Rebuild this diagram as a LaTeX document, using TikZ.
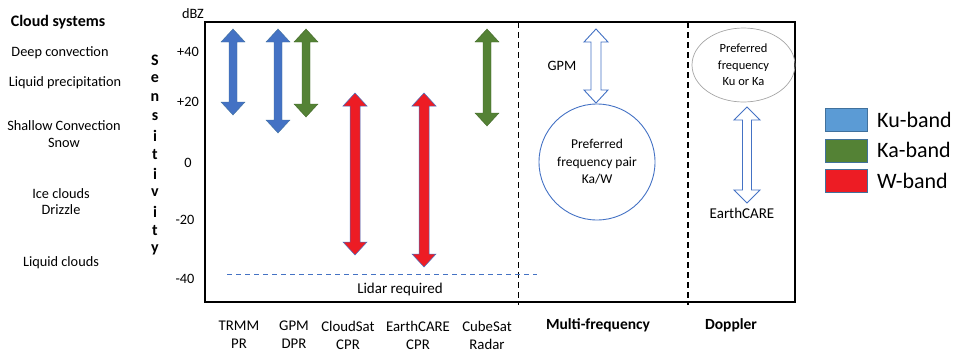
\documentclass[tikz,border=0pt]{standalone}
\usepackage{fontspec}
\setmainfont{Carlito}
\usetikzlibrary{shapes.geometric}
\definecolor{kublue}{HTML}{4472C4}
\definecolor{kuleg}{HTML}{5B9BD5}
\definecolor{kagreen}{HTML}{548235}
\definecolor{wred}{HTML}{ED1C24}
\definecolor{outl}{HTML}{41719C}
\newcommand{\dblarr}[6]{% x, ytop, ybot, W, w, style
  \draw[#6] (#1,#2) -- (#1+#4,#2+13) -- (#1+#5,#2+13) -- (#1+#5,#3-13) -- (#1+#4,#3-13)
   -- (#1,#3) -- (#1-#4,#3-13) -- (#1-#5,#3-13) -- (#1-#5,#2+13) -- (#1-#4,#2+13) -- cycle;}
\tikzset{
  txt/.style={inner sep=0pt, font=\fontsize{14.3}{16}\selectfont},
  bold/.style={inner sep=0pt, font=\fontsize{16}{18}\selectfont\bfseries},
  sens/.style={inner sep=0pt, font=\fontsize{16}{18}\selectfont\bfseries},
  inst/.style={inner sep=0pt, align=center, font=\fontsize{14.8}{18}\selectfont},
  kuarr/.style={fill=kublue, draw=outl, line width=0.4pt},
  kaarr/.style={fill=kagreen, draw=kagreen!80!black, line width=0.4pt},
  warr/.style={fill=wred, draw=kublue, line width=0.5pt},
  hollow/.style={fill=white, draw=kublue, line width=0.9pt},
  vdash/.style={line width=1.5pt, dash pattern=on 6pt off 4pt},
  legbox/.style={draw=outl, line width=0.8pt},
  legtxt/.style={inner sep=0pt, anchor=west, font=\fontsize{22}{24}\selectfont}
}
\begin{document}
\begin{tikzpicture}[x=1pt,y=-1pt]
\useasboundingbox (0,0) rectangle (957,351);
% left column
\node[bold] (cs) at (58,22) {Cloud systems};
\node[txt] (dc) at (60,53) {Deep convection};
\node[txt] (lp) at (65,83) {Liquid precipitation};
\node[txt] (sc) at (64,126) {Shallow Convection};
\node[txt] (sn) at (64,143) {Snow};
\node[txt] (ic) at (61,194) {Ice clouds};
\node[txt] (dr) at (61,210) {Drizzle};
\node[txt] (lc) at (61,263) {Liquid clouds};
% Sensitivity
\foreach \l [count=\i from 0] in {S,e,n,s,i,t,i,v,i,t,y}
  \node[sens] (sens\i) at (155,60+19*\i) {\l};
% axis labels
\node[txt] (dbz) at (193,14) {dBZ};
\node[txt] (p40) at (188,52) {+40};
\node[txt] (p20) at (188,102) {+20};
\node[txt] (z0) at (188,163) {0};
\node[txt] (m20) at (185,220) {-20};
\node[txt] (m40) at (185,279) {-40};
% main box
\draw[line width=2.2pt] (205,22) rectangle (795,302);
\draw[vdash] (518.5,22) -- (518.5,305);
\draw[vdash] (688,22) -- (688,305);
% lidar line
\draw[kublue, line width=0.8pt, dash pattern=on 5pt off 4pt] (227,274) -- (537,274);
\node[txt, font=\fontsize{15}{17}\selectfont] (lidar) at (400,289) {Lidar required};
% arrows
\dblarr{233}{29}{115}{12}{4}{kuarr}
\dblarr{278}{29}{133}{12}{4}{kuarr}
\dblarr{306}{29}{117}{12}{4}{kaarr}
\dblarr{355}{93}{255}{12}{5}{warr}
\dblarr{424}{93}{267}{12}{5}{warr}
\dblarr{487}{29}{126}{12}{4}{kaarr}
% bottom labels
\node[inst] (trmm) at (239,335) {TRMM\\PR};
\node[inst] (gpm) at (294,335) {GPM\\DPR};
\node[inst] (cloudsat) at (348,335) {CloudSat\\CPR};
\node[inst] (earthcare) at (418,335) {EarthCARE\\CPR};
\node[inst] (cubesat) at (487,335) {CubeSat\\Radar};
\node[bold, font=\fontsize{15.5}{18}\selectfont\bfseries] (multi) at (598,325) {Multi-frequency};
\node[bold, font=\fontsize{15.5}{18}\selectfont\bfseries] (doppler) at (731,325) {Doppler};
% multi-frequency
\dblarr{596}{29}{103}{12}{5}{hollow}
\node[txt] (gpmlab) at (562,66) {GPM};
\node[circle, draw=kublue, line width=0.9pt, minimum size=116pt, inner sep=0pt, align=center,
  font=\fontsize{13.5}{17.5}\selectfont] (pair) at (597,162) {Preferred\\frequency pair\\Ka/W};
% doppler
\node[ellipse, draw=gray!70, line width=0.7pt, minimum width=103pt, minimum height=74pt, inner sep=0pt,
  align=center, font=\fontsize{12.5}{16.5}\selectfont] (pref) at (743.5,65) {Preferred\\frequency\\Ku or Ka};
\dblarr{747}{107}{203}{13}{4.5}{hollow}
\node[txt, font=\fontsize{15}{17}\selectfont] (eclab) at (742,213) {EarthCARE};
% legend
\draw[legbox, fill=kuleg] (825,108) rectangle (867,131);
\draw[legbox, fill=kagreen] (825,139) rectangle (867,162);
\draw[legbox, fill=wred] (825,169) rectangle (867,192);
\node[legtxt] (ku) at (877,120) {Ku-band};
\node[legtxt] (ka) at (877,150) {Ka-band};
\node[legtxt] (wb) at (877,181) {W-band};
\end{tikzpicture}
\end{document}
